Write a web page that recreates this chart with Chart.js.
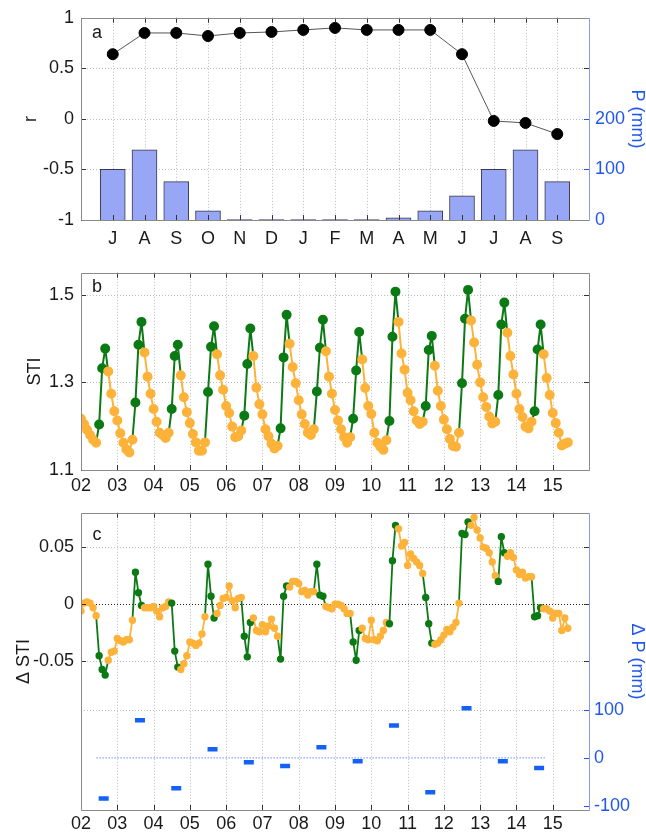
<!DOCTYPE html>
<html>
<head>
<meta charset="utf-8">
<script src="https://cdn.jsdelivr.net/npm/chart.js@4.4.1/dist/chart.umd.min.js"></script>
<style>
  body { margin: 0; background: #fff; }
  .panel { position: absolute; left: 0; width: 646px; }
</style>
</head>
<body>
<div class="panel" style="top:0;height:255px"><canvas id="panelA"></canvas></div>
<div class="panel" style="top:255px;height:240px"><canvas id="panelB"></canvas></div>
<div class="panel" style="top:495px;height:340px"><canvas id="panelC"></canvas></div>
<script>
// ---- panel a : monthly correlation r and precipitation P ----
const monthLabels = ['J','A','S','O','N','D','J','F','M','A','M','J','J','A','S'];
const rValues  = [0.64, 0.85, 0.85, 0.82, 0.85, 0.86, 0.88, 0.90, 0.88, 0.88, 0.88, 0.64, -0.02, -0.04, -0.15];
const precipMm = [100, 139, 76, 18, 1, 1, 1, 1, 1, 4.5, 18, 48, 100, 139, 76];

// ---- panel b / c : monthly series Jan 2002 .. Jun 2015 ----
const startYear = 2002;
const yearLabels = ['02','03','04','05','06','07','08','09','10','11','12','13','14','15'];
const greenMonths = [6, 7, 8];   // Jul, Aug, Sep drawn in green

const stiValues = [
  1.217, 1.205, 1.192, 1.180, 1.169, 1.162, 1.204, 1.332, 1.377, 1.325, 1.274, 1.234,
  1.213, 1.184, 1.162, 1.147, 1.140, 1.169, 1.254, 1.386, 1.438, 1.368, 1.313, 1.274,
  1.239, 1.210, 1.185, 1.180, 1.173, 1.185, 1.239, 1.360, 1.386, 1.316, 1.266, 1.232,
  1.207, 1.182, 1.163, 1.144, 1.144, 1.163, 1.278, 1.381, 1.428, 1.364, 1.316, 1.283,
  1.246, 1.230, 1.199, 1.175, 1.177, 1.190, 1.224, 1.342, 1.423, 1.360, 1.288, 1.250,
  1.227, 1.193, 1.177, 1.160, 1.149, 1.155, 1.195, 1.357, 1.454, 1.388, 1.335, 1.298,
  1.259, 1.227, 1.205, 1.185, 1.180, 1.193, 1.279, 1.379, 1.443, 1.371, 1.313, 1.274,
  1.237, 1.213, 1.193, 1.175, 1.162, 1.175, 1.217, 1.327, 1.415, 1.352, 1.287, 1.246,
  1.228, 1.185, 1.162, 1.153, 1.146, 1.168, 1.212, 1.404, 1.507, 1.438, 1.366, 1.329,
  1.276, 1.259, 1.234, 1.213, 1.205, 1.210, 1.246, 1.374, 1.406, 1.338, 1.281, 1.246,
  1.215, 1.193, 1.171, 1.155, 1.153, 1.185, 1.298, 1.445, 1.511, 1.441, 1.391, 1.340,
  1.300, 1.266, 1.244, 1.222, 1.206, 1.210, 1.271, 1.432, 1.482, 1.413, 1.360, 1.318,
  1.274, 1.239, 1.221, 1.199, 1.195, 1.210, 1.234, 1.375, 1.432, 1.364, 1.310, 1.271,
  1.230, 1.207, 1.185, 1.156, 1.160, 1.163
];

const dStiValues = [
  -0.006, 0.001, 0.002, 0.001, -0.003, -0.010, -0.045, -0.057, -0.062, -0.049, -0.042, -0.041,
  -0.030, -0.032, -0.033, -0.031, -0.031, -0.014, 0.028, 0.010, -0.001, -0.003, -0.003, -0.003,
  -0.002, -0.006, -0.011, -0.003, -0.002, 0.002, 0.001, -0.041, -0.055, -0.057, -0.052, -0.045,
  -0.033, -0.034, -0.036, -0.034, -0.026, -0.011, 0.035, 0.007, -0.012, -0.008, -0.001, 0.005,
  0.006, 0.016, 0.003, -0.003, 0.005, 0.006, -0.028, -0.046, -0.016, -0.012, -0.023, -0.024,
  -0.018, -0.024, -0.019, -0.013, -0.021, -0.028, -0.048, 0.007, 0.016, 0.015, 0.020, 0.020,
  0.018, 0.011, 0.012, 0.008, 0.011, 0.011, 0.035, 0.008, 0.007, -0.002, -0.003, -0.004,
  0.000, 0.000, -0.001, -0.004, -0.008, -0.008, -0.033, -0.049, -0.023, -0.021, -0.030, -0.031,
  -0.014, -0.031, -0.032, -0.028, -0.023, -0.016, -0.017, 0.038, 0.069, 0.066, 0.051, 0.054,
  0.034, 0.044, 0.040, 0.037, 0.034, 0.027, 0.006, -0.017, -0.034, -0.035, -0.034, -0.031,
  -0.027, -0.022, -0.024, -0.020, -0.016, 0.001, 0.062, 0.061, 0.072, 0.069, 0.076, 0.065,
  0.058, 0.050, 0.049, 0.045, 0.037, 0.025, 0.020, 0.059, 0.045, 0.042, 0.045, 0.041,
  0.030, 0.026, 0.028, 0.023, 0.024, 0.024, -0.011, -0.010, -0.003, -0.004, -0.004, -0.006,
  -0.012, -0.008, -0.008, -0.023, -0.012, -0.021
];

// yearly precipitation anomaly, drawn at Aug/Sep of each year
const dpYears  = [2002, 2003, 2004, 2005, 2006, 2007, 2008, 2009, 2010, 2011, 2012, 2013, 2014];
const dpValues = [-84, 78, -63, 18, -9, -17, 22, -7, 67, -71, 103, -7, -21];
const dpMonth = 7.5;
const dpZeroFrom = 2002.43, dpZeroTo = 2014.83;

const GREEN = '#0c7a14', ORANGE = '#fdb23a', BLUE = '#2158ec', SPINE_BLUE = '#8899f2';
const TEXT = '#1a1a1a', FRAME = '#8a8a8a', GRID = '#bdbdbd';

Chart.defaults.font.family = '"Liberation Sans", Arial, sans-serif';
Chart.defaults.font.size = 18;
Chart.defaults.color = TEXT;

const isGreen = i => greenMonths.includes(i % 12);
const monthX = i => startYear + i / 12;

// grid, inward ticks, box and panel letter, matlab style
function seg(ctx, x1, y1, x2, y2, c) {
  ctx.strokeStyle = c;
  ctx.beginPath(); ctx.moveTo(x1, y1); ctx.lineTo(x2, y2); ctx.stroke();
}
const deco = {
  id: 'deco',
  beforeDatasetsDraw(chart, args, o) {
    const {ctx, chartArea: a, scales} = chart;
    ctx.save();
    ctx.lineWidth = 1;
    ctx.setLineDash([1, 2]);
    scales.x.ticks.forEach(t => {
      const px = Math.round(scales.x.getPixelForValue(t.value)) + 0.5;
      if (px < a.left + 2 || px > a.right - 2) return;
      seg(ctx, px, a.top, px, a.bottom, GRID);
    });
    (o.hGrid || []).forEach(g => {
      const py = Math.round(scales[g.axis].getPixelForValue(g.value)) + 0.5;
      seg(ctx, a.left, py, a.right, py, g.color || GRID);
    });
    ctx.restore();
  },
  afterDraw(chart, args, o) {
    const {ctx, chartArea: a, scales} = chart;
    const L = 5;
    ctx.save();
    ctx.lineWidth = 1;
    scales.x.ticks.forEach(t => {
      const px = Math.round(scales.x.getPixelForValue(t.value)) + 0.5;
      if (px < a.left + 2 || px > a.right - 2) return;
      seg(ctx, px, a.bottom, px, a.bottom - L, '#333');
      seg(ctx, px, a.top, px, a.top + L, '#333');
    });
    scales.y.ticks.forEach(t => {
      const py = Math.round(scales.y.getPixelForValue(t.value)) + 0.5;
      seg(ctx, a.left, py, a.left + L, py, '#333');
      seg(ctx, a.right, py, a.right - L, py, '#333');
    });
    if (o.right) {
      scales[o.right].ticks.forEach(t => {
        const py = Math.round(scales[o.right].getPixelForValue(t.value)) + 0.5;
        seg(ctx, a.right, py, a.right - L, py, BLUE);
      });
    }
    const l = Math.round(a.left) + 0.5, r = Math.round(a.right) + 0.5;
    const tp = Math.round(a.top) + 0.5, b = Math.round(a.bottom) + 0.5;
    seg(ctx, l, tp, r, tp, FRAME);
    seg(ctx, l, b, r, b, FRAME);
    seg(ctx, l, tp, l, b, FRAME);
    seg(ctx, r, tp, r, b, o.right ? SPINE_BLUE : FRAME);
    ctx.fillStyle = TEXT;
    ctx.font = '18px "Liberation Sans", Arial, sans-serif';
    ctx.textAlign = 'center';
    ctx.textBaseline = 'middle';
    ctx.fillText(o.letter, a.left + 16, a.top + o.letterDy);
    ctx.restore();
  }
};

const noGrid = {display: false, drawTicks: false};
function leftAxis(title, pad, extra) {
  return Object.assign({
    position: 'left',
    afterFit: s => { s.width = 81; },
    grid: noGrid, border: {display: false},
    title: {display: true, text: title, color: TEXT, font: {size: 18}, padding: {top: pad, bottom: 0}}
  }, extra);
}
function rightAxis(title, extra) {
  return Object.assign({
    position: 'right',
    afterFit: s => { s.width = 57; },
    grid: noGrid, border: {display: false},
    title: {display: true, text: title, color: BLUE, font: {size: 18, lineHeight: 1}, padding: {top: 0, bottom: 0}}
  }, extra);
}
function yearAxis(pad) {
  return {
    type: 'linear', min: 2002, max: 2016,
    afterFit: s => { s.height = 25; },
    grid: noGrid, border: {display: false},
    ticks: {stepSize: 1, autoSkip: false, maxRotation: 0, padding: pad, color: TEXT,
      callback: v => yearLabels[Math.round(v) - startYear] || ''}
  };
}
const base = {
  responsive: true, maintainAspectRatio: false, animation: false, events: [],
  plugins: {legend: {display: false}, tooltip: {enabled: false}}
};

// ---------- panel a ----------
new Chart(document.getElementById('panelA'), {
  type: 'bar',
  plugins: [deco],
  data: {
    datasets: [
      {
        type: 'line', yAxisID: 'y', order: 0,
        data: rValues.map((v, i) => ({x: i + 1, y: v})),
        borderColor: '#555', borderWidth: 1,
        pointRadius: 5.5, pointBackgroundColor: '#000', pointBorderColor: '#000'
      },
      {
        type: 'bar', yAxisID: 'yP', order: 1,
        data: precipMm.map((v, i) => ({x: i + 1, y: v})),
        backgroundColor: '#98a6f6', borderColor: '#3a3a4a', borderWidth: 1, barThickness: 25
      }
    ]
  },
  options: Object.assign({}, base, {
    layout: {padding: {top: 16}},
    plugins: Object.assign({}, base.plugins, {
      deco: {letter: 'a', letterDy: 15, right: 'yP',
        hGrid: [{axis: 'y', value: 0.5}, {axis: 'y', value: 0}, {axis: 'y', value: -0.5}]}
    }),
    scales: {
      x: {
        type: 'linear', min: 0, max: 16, offset: false,
        afterFit: s => { s.height = 35; },
        grid: noGrid, border: {display: false},
        ticks: {stepSize: 1, autoSkip: false, maxRotation: 0, padding: 8, color: TEXT,
          callback: v => monthLabels[Math.round(v) - 1] || ''}
      },
      y: leftAxis('r', 20, {min: -1, max: 1,
        ticks: {stepSize: 0.5, padding: 7, color: TEXT, callback: v => String(v)}}),
      yP: rightAxis('P (mm)', {
        min: 0, max: 400,
        afterBuildTicks: s => { s.ticks = [0, 100, 200].map(v => ({value: v})); },
        ticks: {padding: 6, color: BLUE}
      })
    }
  })
});

// ---------- panel b ----------
new Chart(document.getElementById('panelB'), {
  type: 'line',
  plugins: [deco],
  data: {
    datasets: [{
      data: stiValues.map((v, i) => ({x: monthX(i), y: v})),
      borderWidth: 2,
      borderColor: ORANGE,
      borderJoinStyle: 'round',
      segment: {borderColor: c => (isGreen(c.p0DataIndex) || isGreen(c.p1DataIndex)) ? GREEN : ORANGE},
      pointRadius: 4,
      pointBackgroundColor: stiValues.map((v, i) => isGreen(i) ? GREEN : ORANGE),
      pointBorderColor: stiValues.map((v, i) => isGreen(i) ? GREEN : ORANGE)
    }]
  },
  options: Object.assign({}, base, {
    layout: {padding: {top: 12, right: 57}},
    plugins: Object.assign({}, base.plugins, {
      deco: {letter: 'b', letterDy: 14, hGrid: [{axis: 'y', value: 1.3}, {axis: 'y', value: 1.5}]}
    }),
    scales: {
      x: yearAxis(5),
      y: leftAxis('STI', 24, {
        min: 1.1, max: 1.55,
        afterBuildTicks: s => { s.ticks = [1.1, 1.3, 1.5].map(v => ({value: v})); },
        ticks: {padding: 7, color: TEXT, callback: v => v.toFixed(1)}
      })
    }
  })
});

// ---------- panel c ----------
new Chart(document.getElementById('panelC'), {
  type: 'line',
  plugins: [deco],
  data: {
    datasets: [
      {
        yAxisID: 'y',
        data: dStiValues.map((v, i) => ({x: monthX(i), y: v})),
        borderWidth: 1.8,
        borderColor: ORANGE,
        borderJoinStyle: 'round',
        segment: {borderColor: c => (isGreen(c.p0DataIndex) || isGreen(c.p1DataIndex)) ? GREEN : ORANGE},
        pointRadius: 2.8,
        pointBackgroundColor: dStiValues.map((v, i) => isGreen(i) ? GREEN : ORANGE),
        pointBorderColor: dStiValues.map((v, i) => isGreen(i) ? GREEN : ORANGE)
      },
      {
        yAxisID: 'yDP',
        data: [{x: dpZeroFrom, y: 0}, {x: dpZeroTo, y: 0}],
        borderColor: BLUE, borderWidth: 1, borderDash: [1, 2], pointRadius: 0
      },
      {
        yAxisID: 'yDP', showLine: false,
        data: dpValues.map((v, i) => ({x: dpYears[i] + dpMonth / 12, y: v})),
        pointStyle: 'line', pointRadius: 5, pointBorderWidth: 4.5, pointBorderColor: '#1560f5'
      }
    ]
  },
  options: Object.assign({}, base, {
    layout: {padding: {top: 11}},
    plugins: Object.assign({}, base.plugins, {
      deco: {letter: 'c', letterDy: 22, right: 'yDP', hGrid: [
        {axis: 'y', value: 0.05}, {axis: 'y', value: -0.05},
        {axis: 'y', value: 0, color: '#222'}, {axis: 'yDP', value: 100}
      ]}
    }),
    scales: {
      x: yearAxis(3),
      y: leftAxis('\u0394 STI', 13, {
        min: -0.18, max: 0.08,
        afterBuildTicks: s => { s.ticks = [-0.05, 0, 0.05].map(v => ({value: v})); },
        ticks: {padding: 7, color: TEXT, callback: v => v === 0 ? '0' : v.toFixed(2)}
      }),
      yDP: rightAxis('\u0394 P (mm)', {
        min: -108, max: 508,
        afterBuildTicks: s => { s.ticks = [-100, 0, 100].map(v => ({value: v})); },
        ticks: {padding: 5, color: BLUE}
      })
    }
  })
});
</script>
</body>
</html>
